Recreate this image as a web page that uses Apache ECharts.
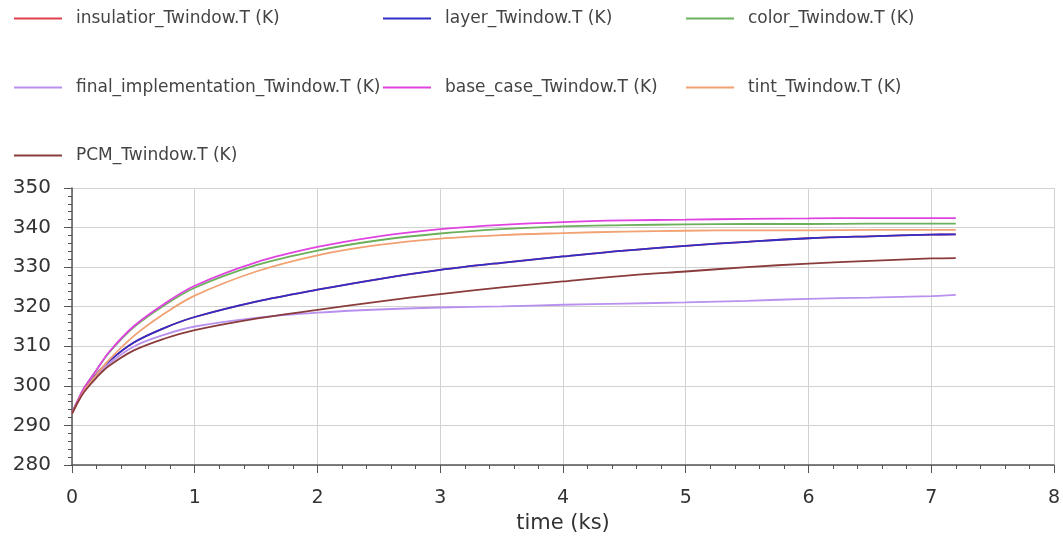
<!DOCTYPE html>
<html>
<head>
<meta charset="utf-8">
<title>Twindow</title>
<script src="https://cdn.jsdelivr.net/npm/echarts@6/dist/echarts.min.js"></script>
</head>
<body style="margin:0;background:#fff;">
<div id="main" style="width:1063px;height:540px;"></div>
<script type="text/javascript">
// time in ks
var time = [0, 0.05, 0.1, 0.2, 0.3, 0.5, 0.75, 1, 1.5, 2, 2.5, 3, 3.5, 4, 4.5, 5, 5.5, 6, 6.5, 7, 7.2];

var insulatior = [293, 296.3, 299, 303, 306.2, 310.9, 314.6, 317.4, 321.3, 324.3, 327, 329.3, 331.1, 332.7, 334.2, 335.4, 336.4, 337.3, 337.8, 338.2, 338.3];
var layer      = [293, 296.3, 299, 303, 306.2, 310.9, 314.6, 317.4, 321.3, 324.3, 327, 329.3, 331.1, 332.7, 334.2, 335.4, 336.4, 337.3, 337.8, 338.2, 338.3];
var color      = [293, 296.5, 299.5, 304, 308.3, 314.7, 320.3, 324.8, 330.5, 334.2, 336.8, 338.5, 339.6, 340.3, 340.6, 340.8, 340.9, 340.9, 341, 341, 341];
var finalImpl  = [293, 296.2, 298.8, 302.6, 305.6, 309.9, 312.9, 315, 317.2, 318.5, 319.3, 319.8, 320.1, 320.5, 320.8, 321.1, 321.5, 322, 322.3, 322.7, 323];
var baseCase   = [293, 296.5, 299.5, 304, 308.5, 315, 320.7, 325.3, 331.2, 335.1, 337.8, 339.6, 340.7, 341.4, 341.8, 342, 342.2, 342.3, 342.4, 342.4, 342.4];
var tint       = [293, 296, 298.8, 302.8, 306.5, 312.5, 318.2, 322.8, 328.9, 333, 335.6, 337.2, 338.1, 338.6, 339, 339.2, 339.3, 339.3, 339.4, 339.4, 339.4];
var pcm        = [293, 296, 298.5, 302.1, 305, 308.9, 311.9, 314.1, 317, 319.2, 321.3, 323.2, 324.9, 326.4, 327.8, 328.9, 330, 330.9, 331.6, 332.2, 332.3];

var names = ['insulatior_Twindow.T (K)', 'layer_Twindow.T (K)', 'color_Twindow.T (K)',
  'final_implementation_Twindow.T (K)', 'base_case_Twindow.T (K)', 'tint_Twindow.T (K)', 'PCM_Twindow.T (K)'];
var values = [insulatior, layer, color, finalImpl, baseCase, tint, pcm];
var colors = ['#e0404c', '#2e2ec8', '#6cb05c', '#b890ee', '#e044e0', '#f2a272', '#8a3c3c'];

// legend slots: [left, top]
var legendPos = [[14, 10], [383, 10], [686, 10], [14, 79], [383, 79], [686, 79], [14, 147]];

var chart = echarts.init(document.getElementById('main'));

function pairs(v) {
  return time.map(function (t, i) { return [t, v[i]]; });
}

var legends = names.map(function (n, i) {
  return {
    data: [n],
    left: legendPos[i][0],
    top: legendPos[i][1],
    padding: 0,
    icon: 'rect',
    itemWidth: 48,
    itemHeight: 2,
    selectedMode: false,
    textStyle: { fontFamily: 'DejaVu Sans', fontSize: 17, color: '#444', padding: [0, 0, 0, 9] }
  };
});

var series = names.map(function (n, i) {
  return {
    name: n,
    type: 'line',
    data: pairs(values[i]),
    showSymbol: false,
    smooth: 0.35,
    color: colors[i],
    lineStyle: { width: 1.8, color: colors[i] },
    animation: false
  };
});

var option = {
  backgroundColor: '#fff',
  legend: legends,
  grid: { left: 72, right: 6, top: 188, bottom: 75 },
  xAxis: {
    type: 'value',
    min: 0, max: 8, interval: 1,
    name: 'time (ks)',
    nameLocation: 'middle',
    nameGap: 48,
    nameTextStyle: { fontFamily: 'DejaVu Sans', fontSize: 21, color: '#333' },
    axisLine: { lineStyle: { color: '#555', width: 1.5 } },
    axisTick: { length: 8, lineStyle: { color: '#555' } },
    minorTick: { show: true, splitNumber: 5, length: 4, lineStyle: { color: '#555' } },
    axisLabel: { margin: 24, fontFamily: 'DejaVu Sans', fontSize: 19, color: '#333' },
    splitLine: { show: true, lineStyle: { color: '#d2d2d2' } }
  },
  yAxis: {
    type: 'value',
    min: 280, max: 350, interval: 10,
    axisLine: { show: true, lineStyle: { color: '#555', width: 1.5 } },
    axisTick: { show: true, length: 8, lineStyle: { color: '#555' } },
    minorTick: { show: true, splitNumber: 5, length: 4, lineStyle: { color: '#555' } },
    axisLabel: { margin: 21, fontFamily: 'DejaVu Sans', fontSize: 20, color: '#333' },
    splitLine: { show: true, lineStyle: { color: '#d2d2d2' } }
  },
  series: series
};

option && chart.setOption(option);
</script>
</body>
</html>
